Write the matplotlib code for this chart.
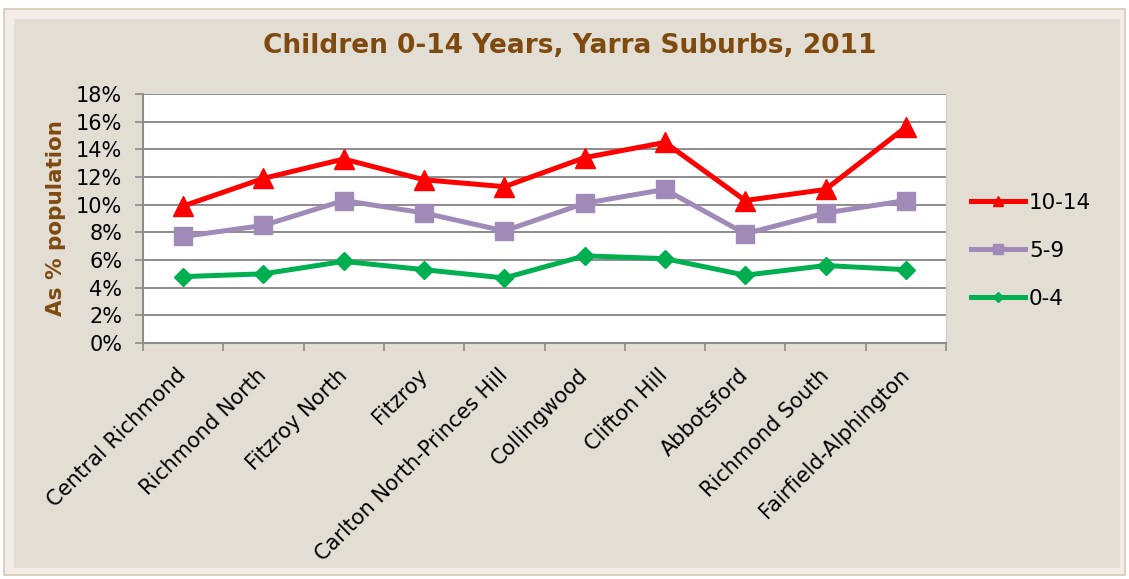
"""
Children 0-14 years by Yarra suburb, 2011
"""

import matplotlib
matplotlib.use("Agg")
import matplotlib.pyplot as plt
from matplotlib.patches import Rectangle
from matplotlib.ticker import FixedLocator, FuncFormatter

# Data
suburbs = ['Central Richmond', 'Richmond North', 'Fitzroy North', 'Fitzroy',
           'Carlton North-Princes Hill', 'Collingwood', 'Clifton Hill',
           'Abbotsford', 'Richmond South', 'Fairfield-Alphington']
age_10_14 = [9.9, 11.9, 13.3, 11.8, 11.3, 13.4, 14.5, 10.3, 11.1, 15.6]
age_5_9 = [7.7, 8.5, 10.3, 9.4, 8.1, 10.1, 11.1, 7.9, 9.4, 10.3]
age_0_4 = [4.8, 5.0, 5.9, 5.3, 4.7, 6.3, 6.1, 4.9, 5.6, 5.3]
y_ticks = [0, 2, 4, 6, 8, 10, 12, 14, 16, 18]

W, H = 1129, 579
fig = plt.figure(figsize=(W / 100, H / 100), dpi=100, facecolor='white')

# Chart panel background (border + beige fill), kept behind the axes
fig.patches.append(Rectangle((4 / W, 1 - 575 / H), 1121 / W, 566 / H,
                             transform=fig.transFigure, facecolor='#F2EEE7',
                             edgecolor='#D5C9B3', linewidth=1.2, zorder=-10))
fig.patches.append(Rectangle((14 / W, 1 - 568 / H), 1106 / W, 549 / H,
                             transform=fig.transFigure, facecolor='#E3DED3',
                             edgecolor='none', zorder=-9))

ax = fig.add_axes([143 / W, 1 - 343 / H, (946 - 143) / W, 249 / H])
ax.set_facecolor('white')

x = list(range(len(suburbs)))
series = [
    ('10-14', age_10_14, '#FF0000', '^', 14),
    ('5-9', age_5_9, '#A08AB8', 's', 13),
    ('0-4', age_0_4, '#00B050', 'D', 9),
]
for label, vals, color, marker, ms in series:
    ax.plot(x, vals, color=color, linewidth=3.6, marker=marker, markersize=ms,
            label=label, zorder=3)

ax.set_xlim(-0.5, len(suburbs) - 0.5)
ax.set_ylim(0, 18)

# Y axis
ax.yaxis.set_major_locator(FixedLocator(y_ticks))
ax.yaxis.set_major_formatter(FuncFormatter(lambda v, p: f"{int(v)}%"))
ax.grid(axis='y', color='#8C8C8C', linewidth=1.4, zorder=1)
ax.tick_params(axis='y', labelsize=15, length=6, width=1.2, color='#8C8C8C',
               direction='out', pad=9)

# X axis: ticks between categories, labels at centres
ax.set_xticks([i - 0.5 for i in range(len(suburbs) + 1)])
ax.set_xticklabels([])
ax.set_xticks(x, minor=True)
ax.set_xticklabels(suburbs, minor=True, rotation=45, ha='right', va='center',
                   rotation_mode='anchor', fontsize=15)
ax.tick_params(axis='x', which='major', length=6, width=1.2, color='#8C8C8C',
               direction='out')
ax.tick_params(axis='x', which='minor', length=0, pad=21)

for side in ['left', 'bottom']:
    ax.spines[side].set_color('#8C8C8C')
    ax.spines[side].set_linewidth(1.5)
ax.spines['top'].set_visible(False)
ax.spines['right'].set_color('#D0D0D0')
ax.spines['right'].set_linewidth(1.0)

ax.set_ylabel('As % population', fontsize=15.5, fontweight='bold',
              color='#7F4A10')
ax.yaxis.set_label_coords((66 - 143) / (946 - 143), (343 - 218) / 249)

fig.text(570 / W, 1 - 46 / H, 'Children 0-14 Years, Yarra Suburbs, 2011',
         ha='center', va='center', fontsize=19, fontweight='bold',
         color='#7F4A10')

leg = ax.legend(loc='center left', bbox_to_anchor=(1.007, 0.37), frameon=False,
                fontsize=15.5, handlelength=2.5, handletextpad=0.2,
                labelspacing=1.3, markerscale=0.55)

fig.savefig('out.png', dpi=100, facecolor=fig.get_facecolor())
